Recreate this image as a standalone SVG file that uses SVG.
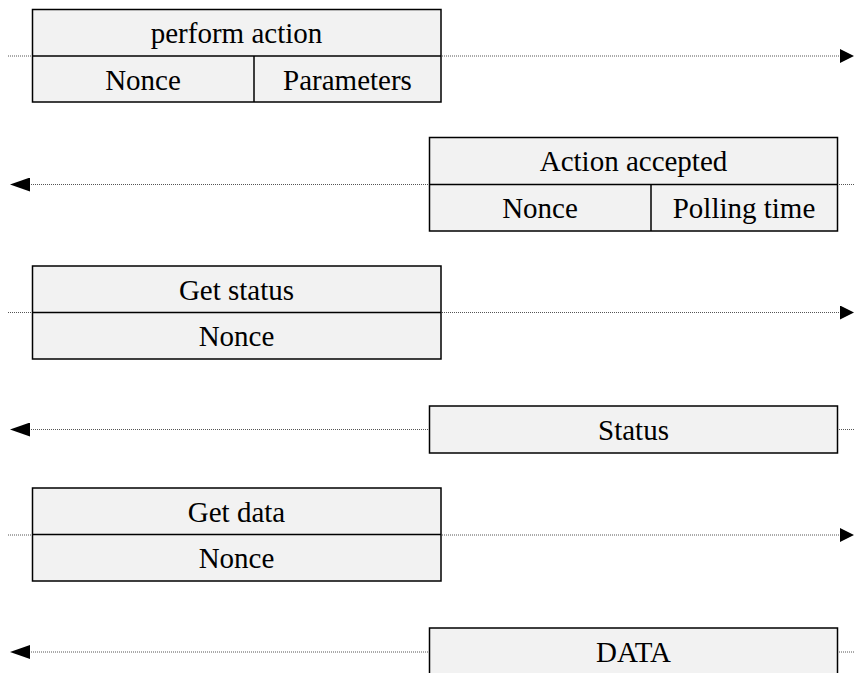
<svg xmlns="http://www.w3.org/2000/svg" width="854" height="673" viewBox="0 0 854 673">
  <defs>
    <style>
      .box { fill: #f2f2f2; stroke: #000; stroke-width: 1.5; }
      .sep { stroke: #000; stroke-width: 1.5; fill: none; }
      .lbl { fill: #000; text-anchor: middle; }
      .msg { stroke: #555; stroke-width: 1; stroke-dasharray: 1 1; fill: none; }
      .msg-r { marker-end: url(#head-r); }
      .msg-l { marker-end: url(#head-l); }
    </style>
    <marker id="head-r" markerUnits="userSpaceOnUse" markerWidth="14" markerHeight="14" refX="0" refY="7" orient="auto">
      <path d="M0,0 L14,7 L0,14 z" fill="#000" stroke="none"/>
    </marker>
    <marker id="head-l" markerUnits="userSpaceOnUse" markerWidth="20" markerHeight="14" refX="0" refY="7" orient="auto">
      <path d="M0,0 L20,7 L0,14 z" fill="#000" stroke="none"/>
    </marker>
  </defs>

  <rect width="854" height="673" fill="#fff"/>

  <!-- message lines -->
  <g id="connectors">
    <line class="msg msg-r" x1="8" y1="56" x2="840" y2="56"/>
    <line class="msg msg-l" x1="854" y1="184.5" x2="30" y2="184.5"/>
    <line class="msg msg-r" x1="8" y1="312.5" x2="840" y2="312.5"/>
    <line class="msg msg-l" x1="854" y1="429.5" x2="30" y2="429.5"/>
    <line class="msg msg-r" x1="8" y1="535" x2="840" y2="535"/>
    <line class="msg msg-l" x1="854" y1="652" x2="30" y2="652"/>
  </g>

  <!-- perform action request -->
  <g id="perform-action">
    <rect class="box" x="32.5" y="9.5" width="408.5" height="92.5"/>
    <line class="sep" x1="32.5" y1="56" x2="441" y2="56"/>
    <line class="sep" x1="254" y1="56" x2="254" y2="102"/>
    <text class="lbl" x="236.5" y="43" style="font-family: 'Liberation Serif', serif; font-size: 29px">perform action</text>
    <text class="lbl" x="143" y="90" style="font-family: 'Liberation Serif', serif; font-size: 29px">Nonce</text>
    <text class="lbl" x="347.5" y="90" style="font-family: 'Liberation Serif', serif; font-size: 29px">Parameters</text>
  </g>

  <!-- action accepted reply -->
  <g id="action-accepted">
    <rect class="box" x="429.5" y="137.5" width="408" height="93.5"/>
    <line class="sep" x1="429.5" y1="184.5" x2="837.5" y2="184.5"/>
    <line class="sep" x1="651" y1="184.5" x2="651" y2="231"/>
    <text class="lbl" x="633.5" y="171" style="font-family: 'Liberation Serif', serif; font-size: 29px">Action accepted</text>
    <text class="lbl" x="540" y="218" style="font-family: 'Liberation Serif', serif; font-size: 29px">Nonce</text>
    <text class="lbl" x="744" y="218" style="font-family: 'Liberation Serif', serif; font-size: 29px">Polling time</text>
  </g>

  <!-- get status request -->
  <g id="get-status">
    <rect class="box" x="32.5" y="266" width="408.5" height="93"/>
    <line class="sep" x1="32.5" y1="312.5" x2="441" y2="312.5"/>
    <text class="lbl" x="236.5" y="299.5" style="font-family: 'Liberation Serif', serif; font-size: 29px">Get status</text>
    <text class="lbl" x="236.5" y="346" style="font-family: 'Liberation Serif', serif; font-size: 29px">Nonce</text>
  </g>

  <!-- status reply -->
  <g id="status">
    <rect class="box" x="429.5" y="406" width="408" height="47"/>
    <text class="lbl" x="633.5" y="440" style="font-family: 'Liberation Serif', serif; font-size: 29px">Status</text>
  </g>

  <!-- get data request -->
  <g id="get-data">
    <rect class="box" x="32.5" y="488" width="408.5" height="93"/>
    <line class="sep" x1="32.5" y1="534.5" x2="441" y2="534.5"/>
    <text class="lbl" x="236.5" y="521.5" style="font-family: 'Liberation Serif', serif; font-size: 29px">Get data</text>
    <text class="lbl" x="236.5" y="568" style="font-family: 'Liberation Serif', serif; font-size: 29px">Nonce</text>
  </g>

  <!-- data reply -->
  <g id="data">
    <rect class="box" x="429.5" y="628" width="408" height="70"/>
    <text class="lbl" x="633.5" y="662" style="font-family: 'Liberation Serif', serif; font-size: 29px">DATA</text>
  </g>
</svg>
